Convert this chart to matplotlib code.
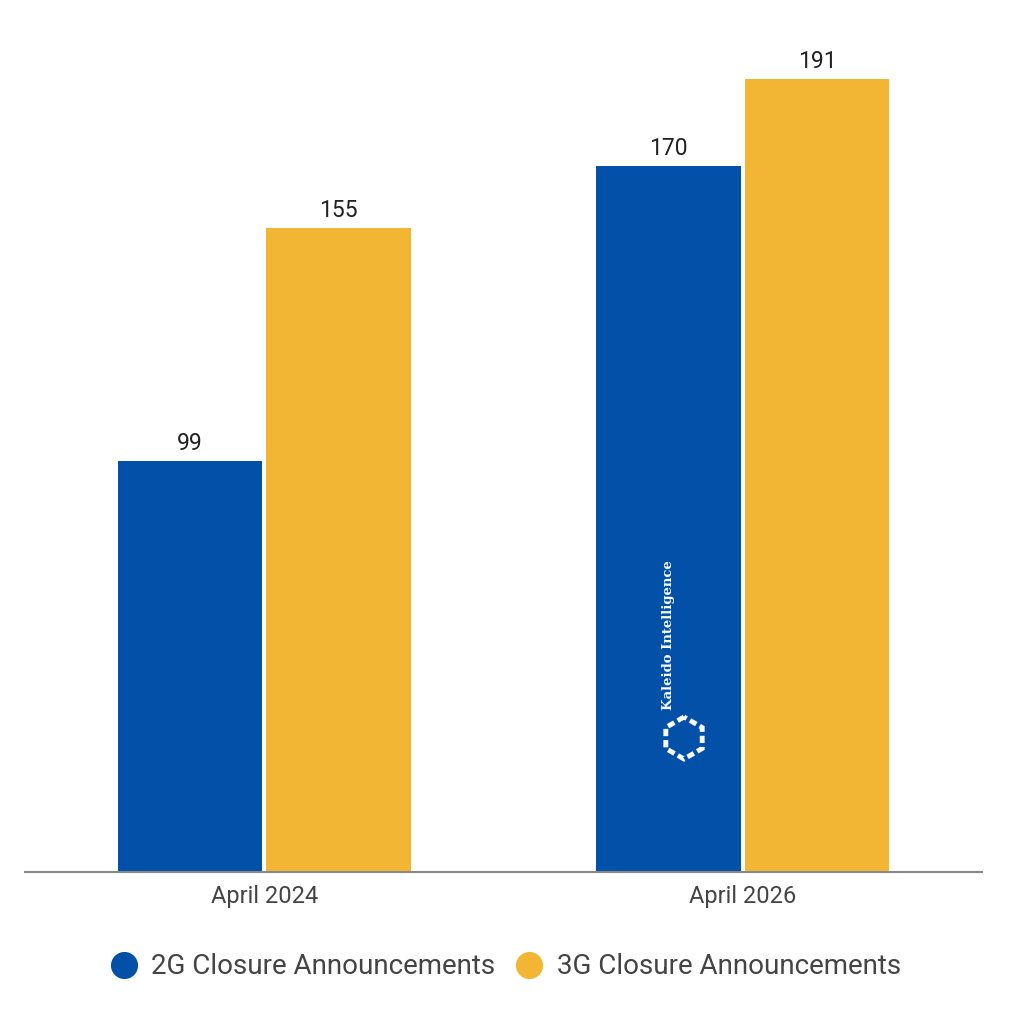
import matplotlib.pyplot as plt
from matplotlib.lines import Line2D
from matplotlib.patches import RegularPolygon

plt.rcParams['font.family'] = ['Roboto', 'DejaVu Sans']

periods = ['April 2024', 'April 2026']
closures_2g = [99, 170]
closures_3g = [155, 191]

blue = '#0250A8'
yellow = '#F2B634'

fig = plt.figure(figsize=(10.24, 10.21), dpi=100)
ax = fig.add_axes([0.0244, 0.1459, 0.9346, 0.8134])

x = list(range(len(periods)))
w = 0.302
off = 0.1555
bars2 = ax.bar([i - off for i in x], closures_2g, width=w, color=blue)
bars3 = ax.bar([i + off for i in x], closures_3g, width=w, color=yellow)

for bars in (bars2, bars3):
    for b in bars:
        ax.text(b.get_x() + b.get_width() / 2, b.get_height() + 1.5,
                str(int(b.get_height())), ha='center', va='bottom',
                fontsize=16.5, color='#222222')

ax.set_xlim(-0.5, 1.5)
ax.set_ylim(0, 200)
ax.set_xticks(x)
ax.set_xticklabels(periods, fontsize=17, color='#444444')
ax.tick_params(axis='x', length=0, pad=9)
ax.set_yticks([])
for s in ['top', 'left', 'right']:
    ax.spines[s].set_visible(False)
ax.spines['bottom'].set_color('#888888')
ax.spines['bottom'].set_linewidth(1.5)

# watermark
wx = 1 - off
ax.text(wx, 57, 'Kaleido Intelligence', rotation=90, ha='center', va='center',
        color='white', fontsize=9.5, fontweight='bold', family='DejaVu Serif')
hexagon = RegularPolygon((684, 1021 - 738), numVertices=6, radius=21,
                         orientation=0, transform=None, fill=False,
                         edgecolor='white', linewidth=3.5, linestyle=(0, (1.5, 0.8)))
fig.patches.append(hexagon)

handles = [Line2D([], [], marker='o', linestyle='', markersize=18.5, color=blue),
           Line2D([], [], marker='o', linestyle='', markersize=18.5, color=yellow)]
fig.legend(handles, ['2G Closure Announcements', '3G Closure Announcements'],
           loc='center', bbox_to_anchor=(0.492, 0.053), ncol=2, frameon=False,
           fontsize=20, handlelength=1.2, handletextpad=0.4,
           columnspacing=0.6, labelcolor='#444444')

fig.savefig('out.png', dpi=100)
